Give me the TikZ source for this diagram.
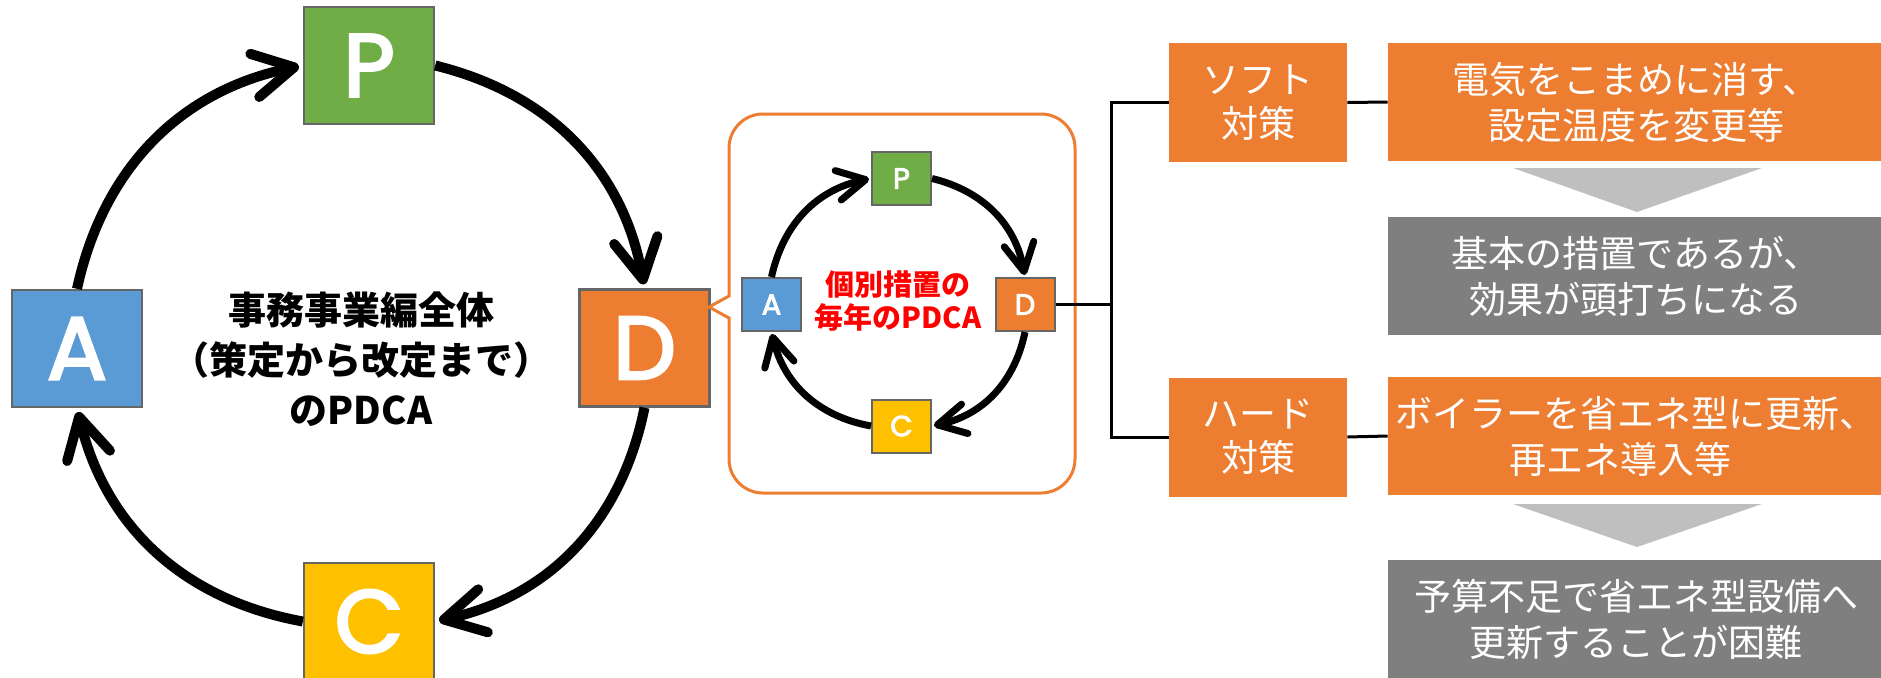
\documentclass[tikz,border=0pt]{standalone}
\usepackage{fontspec}
\newfontfamily\jp{Noto Sans CJK JP}
\newfontfamily\pop{Poppins}[FakeBold=3]
\usetikzlibrary{arrows.meta}
\definecolor{cP}{HTML}{70AD47}
\definecolor{cA}{HTML}{5B9BD5}
\definecolor{cD}{HTML}{ED7D31}
\definecolor{cC}{HTML}{FFC000}
\definecolor{cGray}{HTML}{7F7F7F}
\definecolor{cLight}{HTML}{BFBFBF}
\definecolor{cBorder}{HTML}{666666}
\definecolor{cRed}{HTML}{FF0000}
\tikzset{
  bigbox/.style={draw=cBorder, line width=1.2pt, minimum width=65pt, minimum height=58.5pt, inner sep=0pt, text=white, font=\pop\fontsize{44.5}{44.5}\selectfont},
  smallbox/.style={draw=cBorder, line width=1pt, minimum width=29.5pt, minimum height=26.5pt, inner sep=0pt, text=white, font=\pop\fontsize{14.5}{14.5}\selectfont},
  bigarrow/.style={line width=5pt, -{Straight Barb[length=20pt,width=22pt,round]}, shorten >=2pt},
  smallarrow/.style={line width=3.5pt, -{Straight Barb[length=14pt,width=15pt,round]}, shorten >=1pt},
  tag/.style={fill=cD, minimum width=89pt, minimum height=59.5pt, inner sep=0pt, text=white, align=center, font=\jp\fontsize{18.5}{22}\selectfont},
  wide/.style={minimum width=248pt, minimum height=59pt, inner sep=0pt, text=white, align=center, font=\jp\fontsize{18.5}{23}\selectfont},
  tree/.style={line width=1.5pt, draw=black},
  callout/.style={draw=cD, line width=1.5pt},
  tri/.style={fill=cLight}
}
\begin{document}
\begin{tikzpicture}[x=0.5pt,y=0.5pt]
\useasboundingbox (0,0) rectangle (1881,677);
% big cycle
\node[bigbox, fill=cP] (P) at (369,611.5) {P};
\node[bigbox, fill=cA] (A) at (77,328.5) {A};
\node[bigbox, fill=cD] (D) at (644.5,329) {D};
\node[bigbox, fill=cC] (C) at (369,55.5) {C};
\node[font=\jp\bfseries\fontsize{19}{25}\selectfont, align=center] (title) at (361,318) {事務事業編全体\\（策定から改定まで）\\のPDCA};
\draw[bigarrow] (A.north) to[bend left=33] (P.west);
\draw[bigarrow] (P.east) to[bend left=33] (D.north);
\draw[bigarrow] (D.south) to[bend left=33] (C.east);
\draw[bigarrow] (C.west) to[bend left=33] (A.south);
% callout
\draw[callout] (900,563) [rounded corners=17pt] -- (1075,563) -- (1075,184) -- (729,184) -- (729,300) [sharp corners] -- (729,359) -- (709,370) -- (729,381) -- (729,450) [rounded corners=17pt] -- (729,563) -- cycle;
% small cycle
\node[smallbox, fill=cP] (sP) at (901.5,498.5) {P};
\node[smallbox, fill=cA] (sA) at (771.5,372.5) {A};
\node[smallbox, fill=cD] (sD) at (1025,372.5) {D};
\node[smallbox, fill=cC] (sC) at (901.5,251) {C};
\node[font=\jp\bfseries\fontsize{14.5}{16.5}\selectfont, text=cRed, align=center] (sub) at (898,375.5) {個別措置の\\毎年のPDCA};
\draw[smallarrow] (sA.north) to[bend left=33] (sP.west);
\draw[smallarrow] (sP.east) to[bend left=33] (sD.north);
\draw[smallarrow] (sD.south) to[bend left=33] (sC.east);
\draw[smallarrow] (sC.west) to[bend left=33] (sA.south);
% right side
\node[tag] (soft) at (1258,574.5) {ソフト\\対策};
\node[tag] (hard) at (1258,240) {ハード\\対策};
\node[wide, fill=cD] (r1) at (1636,575) {電気をこまめに消す、\\設定温度を変更等};
\node[wide, fill=cGray] (g1) at (1636,401) {基本の措置であるが、\\効果が頭打ちになる};
\node[wide, fill=cD] (r2) at (1636,241) {ボイラーを省エネ型に更新、\\再エネ導入等\kern16pt};
\node[wide, fill=cGray] (g2) at (1636,58) {予算不足で省エネ型設備へ\\更新することが困難};
\fill[tri] (1513,509) -- (1762,509) -- (1637,465) -- cycle;
\fill[tri] (1513,173) -- (1762,173) -- (1637,130) -- cycle;
\coordinate (j) at (1111,372.5);
\draw[tree] (sD.east) -- (j);
\draw[tree] (j) |- (soft.west);
\draw[tree] (j) |- (hard.west);
\draw[tree] (soft.east) -- (r1.west);
\draw[tree] (hard.east) -- (r2.west);
\end{tikzpicture}
\end{document}
